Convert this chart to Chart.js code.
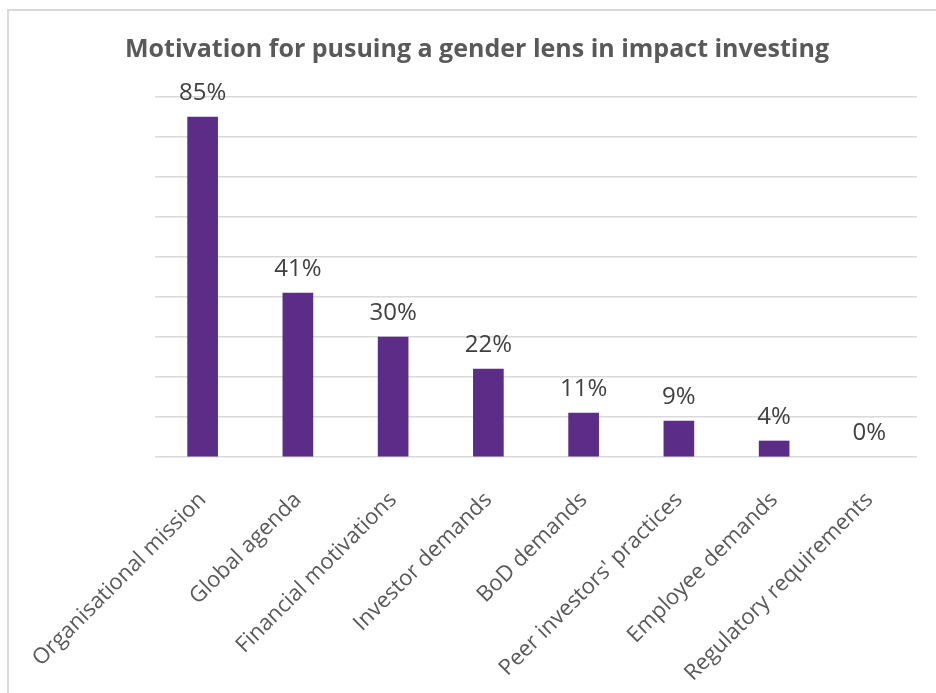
<!DOCTYPE html>
<html>
<head>
<meta charset="utf-8">
<style>
  html, body { margin: 0; padding: 0; background: #fff; overflow: hidden; }
  #wrap { position: relative; width: 936px; height: 693px; }
  #frame { position: absolute; left: 7px; top: 9px; width: 1000px; height: 1000px; border: 2px solid #d9d9d9; box-sizing: border-box; }
  canvas { position: absolute; left: 0; top: 0; }
</style>
</head>
<body>
<div id="wrap">
  <div id="frame"></div>
  <canvas id="motivChart" width="936" height="693"></canvas>
</div>

<script src="https://cdn.jsdelivr.net/npm/chart.js"></script>
<script>
  const categories = [
    'Organisational mission',
    'Global agenda',
    'Financial motivations',
    'Investor demands',
    'BoD demands',
    "Peer investors' practices",
    'Employee demands',
    'Regulatory requirements'
  ];
  const shares = [85, 41, 30, 22, 11, 9, 4, 0];
  const yMax = 90;
  const yStep = 10;

  // label value di atas setiap batang
  const barLabels = {
    id: 'barLabels',
    afterDatasetsDraw(chart) {
      const ctx = chart.ctx;
      const meta = chart.getDatasetMeta(0);
      ctx.save();
      ctx.font = '24px "Open Sans", "Noto Sans", sans-serif';
      ctx.fillStyle = '#404040';
      ctx.textAlign = 'center';
      ctx.textBaseline = 'alphabetic';
      meta.data.forEach((bar, i) => {
        ctx.fillText(shares[i] + '%', bar.x, bar.y - 17);
      });
      ctx.restore();
    }
  };

  const ctx = document.getElementById('motivChart').getContext('2d');
  new Chart(ctx, {
    type: 'bar',
    data: {
      labels: categories,
      datasets: [{
        data: shares,
        backgroundColor: shares.map(v => v > 0 ? '#5c2d86' : 'rgba(0,0,0,0)'),
        borderWidth: 0,
        barThickness: 30
      }]
    },
    options: {
      responsive: false,
      animation: false,
      layout: { padding: { left: 37, right: 19, top: 0, bottom: 0 } },
      plugins: {
        legend: { display: false },
        tooltip: { enabled: false },
        title: {
          display: true,
          text: 'Motivation for pusuing a gender lens in impact investing',
          color: '#595959',
          font: { family: '"Open Sans", "Noto Sans", sans-serif', size: 25, weight: 'bold', lineHeight: 1.2 },
          padding: { top: 35, bottom: 32 }
        }
      },
      scales: {
        x: {
          grid: { display: false },
          border: { display: false },
          ticks: {
            color: '#595959',
            font: { family: '"Open Sans", "Noto Sans", sans-serif', size: 22 },
            minRotation: 45,
            maxRotation: 45,
            autoSkip: false,
            padding: 22
          },
          afterFit(scale) { scale.height = 236; }
        },
        y: {
          min: 0,
          max: yMax,
          ticks: { display: false, stepSize: yStep },
          border: { display: false },
          grid: { color: '#d9d9d9', lineWidth: 1.5, drawTicks: false },
          afterFit(scale) { scale.width = 118; }
        }
      }
    },
    plugins: [barLabels]
  });
</script>
</body>
</html>
